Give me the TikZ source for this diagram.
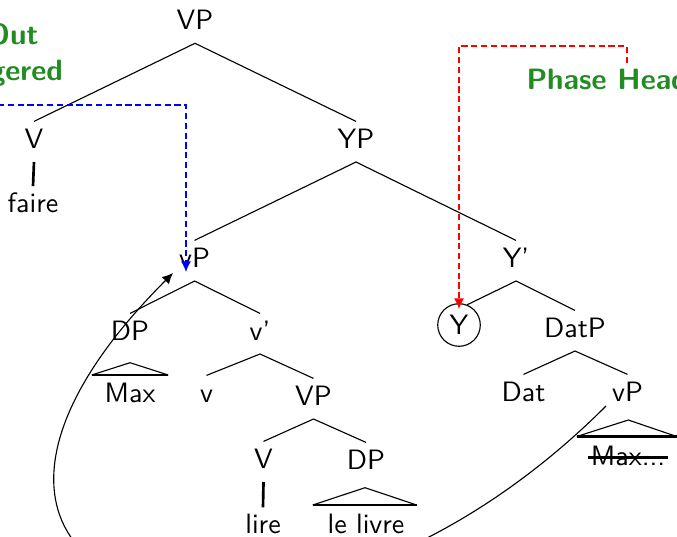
\documentclass[tikz,border=0pt]{standalone}
\usetikzlibrary{arrows.meta}
\definecolor{labelgreen}{RGB}{34,139,34}
\begin{document}
\begin{tikzpicture}[x=0.3571pt,y=-0.3571pt,
  font=\sffamily,
  every node/.style={inner sep=0pt},
  cat/.style={anchor=base, text height=9.3pt, text depth=4.8pt},
  word/.style={anchor=base},
  edge/.style={line width=0.4pt},
  heavy/.style={line width=0.95pt},
  tip/.style={-{Latex[length=3.8pt,width=3.6pt]}},
  bluedash/.style={line width=0.45pt, blue, tip, dash pattern=on 2.2pt off 1.3pt},
  reddash/.style={line width=0.5pt, red, tip, dash pattern=on 2.2pt off 1.3pt},
  greenlbl/.style={font=\sffamily\fontsize{10.5}{12}\fontseries{bx}\selectfont, text=labelgreen}
]
\useasboundingbox (0,0) rectangle (677,536);
\clip (0,0) rectangle (677,536);

% categories and words
\node[cat] (VPtop) at (195,29.3) {VP};
\node[cat] (Vhi) at (34,148) {V};
\node[word] (faire) at (33,212) {faire};
\node[cat] (YP) at (356,148) {YP};
\node[cat] (vPmid) at (194.5,267) {vP};
\node[cat] (Ybar) at (516,267) {Y'};
\node[circle, draw, line width=0.4pt, minimum size=15.2pt] (Yc) at (459,325) {Y};
\node[cat] (DPa) at (130,340) {DP};
\node[cat] (vbar) at (260,340) {v'};
\node[cat] (DatP) at (575,337) {DatP};
\node[word] (MaxA) at (130,402) {Max};
\node[cat] (vsmall) at (206.5,402) {v};
\node[cat] (VPlow) at (313.5,405) {VP};
\node[cat] (Dat) at (523.5,401) {Dat};
\node[cat] (vPlow) at (627.5,401) {vP};
\node[cat] (Vlow) at (263.5,468) {V};
\node[cat] (DPb) at (366,469) {DP};
\node[word] (MaxB) at (628,465) {Max...};
\node[word] (lire) at (263,533) {lire};
\node[word] (livre) at (366,533) {le livre};

% side labels
\node[greenlbl, anchor=base east] (outA) at (39,45) {Out};
\node[greenlbl, anchor=base east] (outB) at (63.5,80) {gered};
\node[greenlbl, anchor=base west] (phase) at (526,90) {Phase Head};

% branches
\draw[edge] (Vhi.north) -- (VPtop.south) -- (YP.north);
\draw[edge] (vPmid.north) -- (YP.south) -- (Ybar.north);
\draw[edge] (DPa.north) -- (vPmid.south) -- (vbar.north);
\draw[edge] (Yc.68) -- (Ybar.south) -- (DatP.north);
\draw[edge] (vsmall.north) -- (vbar.south) -- (VPlow.north);
\draw[edge] (Dat.north) -- (DatP.south) -- (vPlow.north);
\draw[edge] (Vlow.north) -- (VPlow.south) -- (DPb.north);

% unary branches
\draw[heavy] (Vhi.south) -- ([yshift=2pt]faire.north);
\draw[heavy] (Vlow.south) -- ([yshift=2pt]lire.north);

% roof triangles
\draw[edge] (91.7,375) -- (130,362.7) -- (168.3,375);
\draw[heavy] (91.7,375) -- (168.3,375);
\draw[edge] (312.7,505) -- (365,487.7) -- (416.7,505);
\draw[heavy] (312.7,505) -- (416.7,505);
\draw[edge] (576.7,436.5) -- (628.3,420) -- (676.7,436.5);
\draw[heavy] (576.7,436.5) -- (676.7,436.5);

% deleted copy
\draw[heavy] (588,457.7) -- (668,457.7);

% movement arrow
\coordinate (mvFrom) at (606,406);
\coordinate (mvTo) at (173,273);
\draw[edge, tip] (mvFrom) .. controls +(-327,327) and +(-327,327) .. (mvTo);

% dashed pointers
\coordinate (blueFrom) at (-2,105);
\coordinate (blueTo) at (186,272);
\draw[bluedash] (blueFrom) -| (blueTo);
\coordinate (redFrom) at (627,63);
\coordinate (redTurn) at (627,46);
\coordinate (redTo) at (459,309);
\draw[reddash] (redFrom) -- (redTurn) -| (redTo);
\end{tikzpicture}
\end{document}
